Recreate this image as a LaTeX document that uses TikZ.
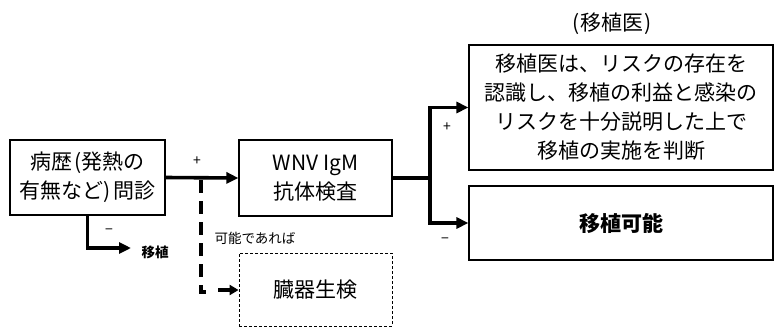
\documentclass[tikz,border=0pt]{standalone}
\usepackage{fontspec}
\setmainfont{Noto Sans CJK JP}
\usetikzlibrary{arrows.meta}
\tikzset{
  box/.style={draw, line width=1.2pt, align=center, inner sep=0pt, font=\fontsize{21}{29}\selectfont},
  dbox/.style={draw, dashed, line width=0.9pt, dash pattern=on 3pt off 2pt, align=center, inner sep=0pt, font=\fontsize{21}{29}\selectfont},
  flow/.style={line width=3.6pt, -{Triangle[length=12pt,width=11pt]}},
  flowplain/.style={line width=3.6pt},
  dflow/.style={line width=3.6pt, dash pattern=on 13pt off 8pt},
  small/.style={font=\fontsize{13.5}{16}\selectfont, inner sep=0pt},
  sign/.style={font=\fontsize{14}{16}\selectfont, inner sep=0pt}
}
\begin{document}
\begin{tikzpicture}[x=1pt,y=-1pt]
\useasboundingbox (0,0) rectangle (775,327);
\node[box, minimum width=155pt, minimum height=75pt] (A) at (87.5,177.5) {病歴\kern2pt(発熱の\\有無など)\kern2pt問診};
\node[box, minimum width=153pt, minimum height=76pt] (B) at (315.5,178) {WNV IgM\\抗体検査};
\node[box, minimum width=304pt, minimum height=125pt] (C) at (621,107.5) {移植医は、リスクの存在を\\認識し、移植の利益と感染の\\リスクを十分説明した上で\\移植の実施を判断};
\node[box, minimum width=304pt, minimum height=74pt] (D) at (621,223) {\textbf{移植可能}};
\node[dbox, minimum width=153pt, minimum height=73pt] (E) at (315.5,289.5) {臓器生検};
\node[font=\fontsize{21}{25}\selectfont, inner sep=0pt] (T) at (612,24) {(\kern1pt移植医\kern1pt)};
% A -> B
\draw[flow] (A.east) -- (B.west);
\node[sign] (p1) at (197,161) {+};
% dashed branch
\coordinate (d1) at (201,180);
\coordinate (d2) at (206,292);
\coordinate (d3) at (218,290);
\draw[dflow] (d1) |- (d2);
\draw[line width=3.6pt, -{Triangle[length=9pt,width=10pt]}] (d3) -- (d3 -| E.west);
\node[small] (k) at (255,238) {可能であれば};
% minus branch from A
\coordinate (m1) at (131,248);
\draw[flow] (A.south) |- (m1);
\node[sign] (n1) at (109,232) {−};
\node[small, font=\bfseries\fontsize{13.5}{16}\selectfont] (ish) at (155,252) {移植};
% B -> C / D
\coordinate (j) at (430,178);
\draw[flowplain] (B.east) -- (j);
\draw[flow] (j) |- (C.west);
\draw[flow] (j) |- (D.west);
\node[sign] (p2) at (447,127) {+};
\node[sign] (n2) at (445,241) {−};
\end{tikzpicture}
\end{document}
